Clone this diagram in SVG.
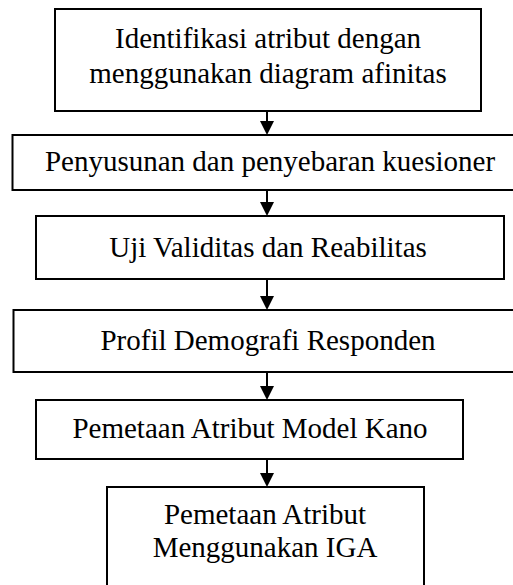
<svg xmlns="http://www.w3.org/2000/svg" width="513" height="585" viewBox="0 0 513 585">
<style>
.box{fill:#fff;stroke:#000;stroke-width:2}
.t{font-family:"Liberation Serif","Times New Roman",serif;font-size:29px;fill:#000;text-anchor:middle}
.c{stroke:#000;stroke-width:2;fill:none}
.h{fill:#000}
</style>
<rect width="513" height="585" fill="#fff"/>
<g id="n1"><rect class="box" x="55" y="9" width="426" height="102"/><text class="t" x="268" y="48">Identifikasi atribut dengan</text><text class="t" x="268" y="83">menggunakan diagram afinitas</text></g>
<g id="n2"><rect class="box" x="12.5" y="135" width="510" height="55"/><text class="t" x="270" y="171">Penyusunan dan penyebaran kuesioner</text></g>
<g id="n3"><rect class="box" x="36" y="216" width="468" height="63"/><text class="t" x="268" y="257">Uji Validitas dan Reabilitas</text></g>
<g id="n4"><rect class="box" x="13.5" y="310" width="510" height="62"/><text class="t" x="268" y="350">Profil Demografi Responden</text></g>
<g id="n5"><rect class="box" x="36" y="400" width="427" height="59"/><text class="t" x="250" y="438">Pemetaan Atribut Model Kano</text></g>
<g id="n6"><rect class="box" x="107" y="487" width="317" height="110"/><text class="t" x="265" y="524">Pemetaan Atribut</text><text class="t" x="265" y="557">Menggunakan IGA</text></g>
<g id="connectors">
<line class="c" x1="267" y1="111" x2="267" y2="122"/><polygon class="h" points="260,121 274,121 267,135"/>
<line class="c" x1="267" y1="190" x2="267" y2="203"/><polygon class="h" points="260,202 274,202 267,216"/>
<line class="c" x1="267" y1="279" x2="267" y2="297"/><polygon class="h" points="260,296 274,296 267,310"/>
<line class="c" x1="267" y1="372" x2="267" y2="387"/><polygon class="h" points="260,386 274,386 267,400"/>
<line class="c" x1="267" y1="459" x2="267" y2="474"/><polygon class="h" points="260,473 274,473 267,487"/>
</g>
</svg>
